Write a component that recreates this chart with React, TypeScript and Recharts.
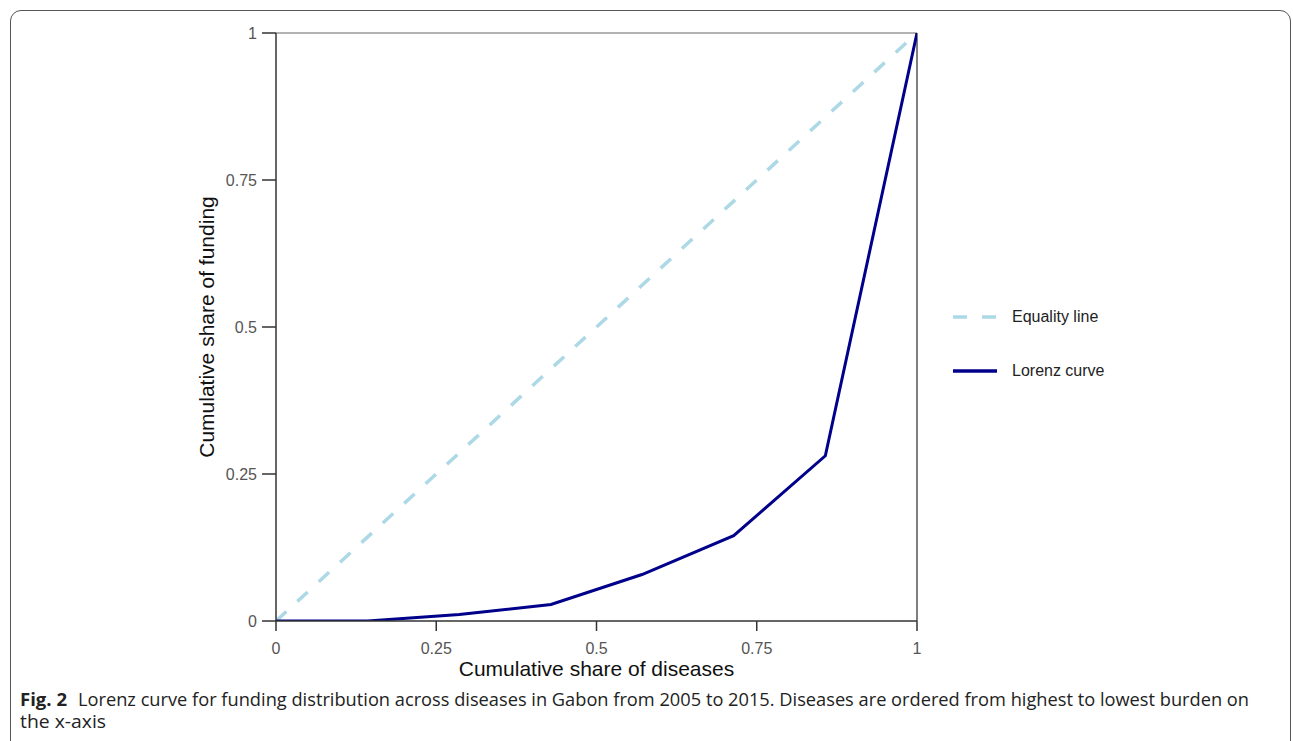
import React from 'react';
import { LineChart, Line, XAxis, YAxis, ReferenceLine, Legend } from 'recharts';

// cumulative share of diseases (7 diseases, ordered by burden)
const diseaseShare = [0, 0.143, 0.286, 0.429, 0.571, 0.714, 0.857, 1];
// cumulative share of funding
const fundingShare = [0, 0, 0.011, 0.028, 0.079, 0.145, 0.281, 1];
// equality line end points
const equalityX = [0, 1];
const equalityY = [0, 1];

const axisTicks = [0, 0.25, 0.5, 0.75, 1];
const tickLabels = ['0', '0.25', '0.5', '0.75', '1'];

const seriesNames = ['Equality line', 'Lorenz curve'];
const seriesColors = ['#ADD8E6', '#00008B'];
const seriesDashes = ['14 15', undefined];

const lorenzData = diseaseShare.map((x, i) => ({ x, y: fundingShare[i] }));
const equalityData = equalityX.map((x, i) => ({ x, y: equalityY[i] }));

const axisFont = "'Liberation Sans', Arial, sans-serif";

const renderLegend = () => (
    <div style={{ fontFamily: axisFont, fontSize: 16, color: '#222' }}>
        {seriesNames.map((name, i) => (
            <div key={name} style={{ display: 'flex', alignItems: 'center', height: 54 }}>
                <svg width={44} height={8} style={{ display: 'block' }}>
                    <line x1={0} y1={4} x2={44} y2={4} stroke={seriesColors[i]} strokeWidth={3.5} strokeDasharray={seriesDashes[i]} />
                </svg>
                <span style={{ marginLeft: 15 }}>{name}</span>
            </div>
        ))}
    </div>
);

const App: React.FC = () => {
    const tickStyle = { fill: '#555', fontSize: 16, fontFamily: axisFont };
    const formatTick = (v: number) => tickLabels[axisTicks.indexOf(v)] ?? String(v);

    return (
        <div style={{ position: 'fixed', left: 0, top: 0, width: 1293, height: 741, overflow: 'hidden', background: '#fff' }}>
            <div style={{ position: 'absolute', left: 10, top: 10, width: 1281, height: 780, border: '1.5px solid #555', borderRadius: 11, boxSizing: 'border-box' }} />
            <div style={{ position: 'absolute', left: 0, top: 0 }}>
                <LineChart width={1293} height={741} margin={{ top: 33, right: 376, bottom: 60, left: 202 }}>
                    <XAxis
                        type="number"
                        dataKey="x"
                        domain={[0, 1]}
                        ticks={axisTicks}
                        tickFormatter={formatTick}
                        height={60}
                        tickSize={10}
                        tickMargin={12}
                        tick={tickStyle}
                        stroke="#333"
                        strokeWidth={1.5}
                        allowDataOverflow
                        label={{ value: 'Cumulative share of diseases', position: 'insideBottom', offset: 5, fill: '#111', fontSize: 21, fontFamily: axisFont }}
                    />
                    <YAxis
                        type="number"
                        dataKey="y"
                        domain={[0, 1]}
                        ticks={axisTicks}
                        tickFormatter={formatTick}
                        width={74}
                        tickSize={14}
                        tickMargin={5}
                        tick={tickStyle}
                        stroke="#333"
                        strokeWidth={1.5}
                        allowDataOverflow
                        label={{ value: 'Cumulative share of funding', angle: -90, position: 'insideLeft', offset: 5, fill: '#111', fontSize: 21, fontFamily: axisFont, style: { textAnchor: 'middle' } }}
                    />
                    <ReferenceLine y={1} stroke="#666" strokeWidth={1.2} />
                    <ReferenceLine x={1} stroke="#555" strokeWidth={1.5} />
                    <Legend
                        layout="horizontal"
                        verticalAlign="middle"
                        align="center"
                        content={renderLegend}
                        wrapperStyle={{ left: 953, top: 290, width: 220, height: 108 }}
                    />
                    <Line
                        data={equalityData}
                        dataKey="y"
                        name={seriesNames[0]}
                        stroke={seriesColors[0]}
                        strokeWidth={3.5}
                        strokeDasharray={seriesDashes[0]}
                        dot={false}
                        activeDot={false}
                        isAnimationActive={false}
                    />
                    <Line
                        data={lorenzData}
                        dataKey="y"
                        name={seriesNames[1]}
                        stroke={seriesColors[1]}
                        strokeWidth={3}
                        dot={false}
                        activeDot={false}
                        isAnimationActive={false}
                    />
                </LineChart>
            </div>
            <svg style={{ position: 'absolute', left: 0, top: 680 }} width={1293} height={61}>
                <g fontFamily="'Open Sans', 'Noto Sans', sans-serif" fontSize={18} fill="#222">
                    <text x={20} y={26} fontWeight="bold" textLength={47} lengthAdjust="spacingAndGlyphs">Fig. 2</text>
                    <text x={78} y={26} textLength={1171} lengthAdjust="spacingAndGlyphs">
                        Lorenz curve for funding distribution across diseases in Gabon from 2005 to 2015. Diseases are ordered from highest to lowest burden on
                    </text>
                    <text x={20} y={48} textLength={86} lengthAdjust="spacingAndGlyphs">the x-axis</text>
                </g>
            </svg>
        </div>
    );
};

export default App;
